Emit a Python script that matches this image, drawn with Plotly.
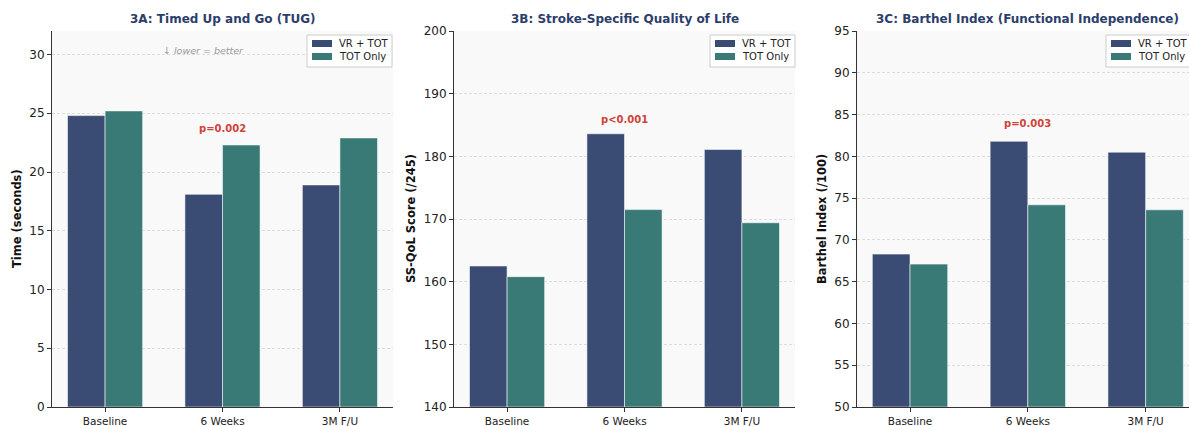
import plotly.graph_objects as go

categories = ["Baseline", "6 Weeks", "3M F/U"]
tug_vr = [24.8, 18.1, 18.9]
tug_tot = [25.2, 22.3, 22.9]
ssqol_vr = [162.5, 183.6, 181.1]
ssqol_tot = [160.8, 171.5, 169.4]
barthel_vr = [68.3, 81.8, 80.5]
barthel_tot = [67.1, 74.2, 73.6]
p_values = ["p=0.002", "p<0.001", "p=0.003"]
titles = ["3A: Timed Up and Go (TUG)", "3B: Stroke-Specific Quality of Life",
          "3C: Barthel Index (Functional Independence)"]
ylabels = ["Time (seconds)", "SS-QoL Score (/245)", "Barthel Index (/100)"]
series_names = ["VR + TOT", "TOT Only"]

W, H = 1189, 426
VR_COLOR = "#3b4c74"
TOT_COLOR = "#397a77"
FONT = "DejaVu Sans"
BW = 0.32

panels = [
    dict(vr=tug_vr, tot=tug_tot, yrange=[0, 32], dtick=5, x0=52, x1=393, xr=[-0.452, 2.452], poff=1.4, leg_l=307),
    dict(vr=ssqol_vr, tot=ssqol_tot, yrange=[140, 200], dtick=10, x0=454, x1=795, xr=[-0.452, 2.452], poff=2.2, leg_l=710),
    dict(vr=barthel_vr, tot=barthel_tot, yrange=[50, 95], dtick=5, x0=857, x1=1189, xr=[-0.45, 2.368], poff=2.1, leg_l=1106),
]
ylab_x = [17, 411, 822]
y_top, y_bot = 31, 407
ydom = [1 - y_bot / H, 1 - y_top / H]
xpos = list(range(len(categories)))


def px(x):
    return x / W


def py(y):
    return 1 - y / H


fig = go.Figure()
annotations = []
shapes = []
for i, p in enumerate(panels):
    n = "" if i == 0 else str(i + 1)
    y0 = p["yrange"][0]
    for name, vals, col, off in [(series_names[0], p["vr"], VR_COLOR, -BW), (series_names[1], p["tot"], TOT_COLOR, 0)]:
        fig.add_trace(go.Bar(
            x=xpos, y=[v - y0 for v in vals], base=y0, name=name, width=BW, offset=off,
            marker=dict(color=col, line=dict(color="rgba(255,255,255,0.55)", width=1)),
            xaxis="x" + n, yaxis="y" + n, showlegend=False,
            customdata=vals, hovertemplate="%{customdata}<extra>" + name + "</extra>",
        ))
    fig.update_layout({
        "xaxis" + n: dict(domain=[px(p["x0"]), px(p["x1"])], anchor="y" + n, range=p["xr"],
                          tickvals=xpos, ticktext=categories,
                          showline=True, linecolor="#333333", linewidth=1, ticks="outside", ticklen=4,
                          tickcolor="#333333", showgrid=False, zeroline=False, automargin=False,
                          tickfont=dict(family=FONT, size=10.5, color="#222222")),
        "yaxis" + n: dict(domain=ydom, anchor="x" + n, range=p["yrange"], dtick=p["dtick"],
                          showline=True, linecolor="#333333", linewidth=1, ticks="outside", ticklen=4,
                          tickcolor="#333333", showgrid=True, gridcolor="#dddddd", griddash="3px,2px",
                          gridwidth=0.8, zeroline=False, automargin=False,
                          tickfont=dict(family=FONT, size=12, color="#222222")),
    })
    shapes.append(dict(type="rect", xref="x" + n + " domain", yref="y" + n + " domain", x0=0, x1=1, y0=0, y1=1,
                       fillcolor="#f9f9f9", line=dict(width=0), layer="below"))
    L = p["leg_l"]
    shapes.append(dict(type="rect", xref="paper", yref="paper", x0=px(L), x1=px(L + 85), y0=py(67), y1=py(35),
                       fillcolor="rgba(255,255,255,0.9)", line=dict(color="#cccccc", width=1), layer="above"))
    for k, (col, yy) in enumerate([(VR_COLOR, 43.5), (TOT_COLOR, 56.5)]):
        shapes.append(dict(type="rect", xref="paper", yref="paper", x0=px(L + 5), x1=px(L + 25),
                           y0=py(yy + 3.5), y1=py(yy - 3.5), fillcolor=col, line=dict(width=0), layer="above"))
        annotations.append(dict(text=series_names[k], xref="paper", yref="paper", x=px(L + 30), y=py(yy),
                                xanchor="left", yanchor="middle", showarrow=False,
                                font=dict(family=FONT, size=10, color="#222222")))
    tx = (p["x0"] + (p["x1"] if i < 2 else p["x0"] + 341)) / 2
    annotations.append(dict(text=f"<b>{titles[i]}</b>", xref="paper", yref="paper",
                            x=px(tx), y=py(19), showarrow=False,
                            font=dict(family=FONT, size=12, color="#2c3e6b"),
                            xanchor="center", yanchor="middle"))
    annotations.append(dict(text=f"<b>{ylabels[i]}</b>", xref="paper", yref="paper",
                            x=px(ylab_x[i]), y=sum(ydom) / 2, textangle=-90, showarrow=False,
                            font=dict(family=FONT, size=11.5, color="#111111"),
                            xanchor="center", yanchor="middle"))
    pv_y = max(p["vr"][1], p["tot"][1]) + p["poff"]
    annotations.append(dict(text=f"<b>{p_values[i]}</b>", xref="x" + n, yref="y" + n, x=xpos[1], y=pv_y,
                            showarrow=False, font=dict(family=FONT, size=10, color="#d0433a"),
                            xanchor="center", yanchor="middle"))

annotations.append(dict(text="<i>↓ lower = better</i>", xref="paper", yref="paper", x=px(203), y=py(51),
                        showarrow=False, font=dict(family=FONT, size=9.5, color="#9a9a9a"),
                        xanchor="center", yanchor="middle"))

fig.update_layout(width=W, height=H, margin=dict(l=0, r=0, t=0, b=0, autoexpand=False),
                  paper_bgcolor="white", plot_bgcolor="rgba(0,0,0,0)", showlegend=False,
                  annotations=annotations, shapes=shapes, font=dict(family=FONT))
fig.write_html("out.html", config={"displayModeBar": False},
               post_script="document.body.style.margin='0';document.body.style.overflow='hidden';")
